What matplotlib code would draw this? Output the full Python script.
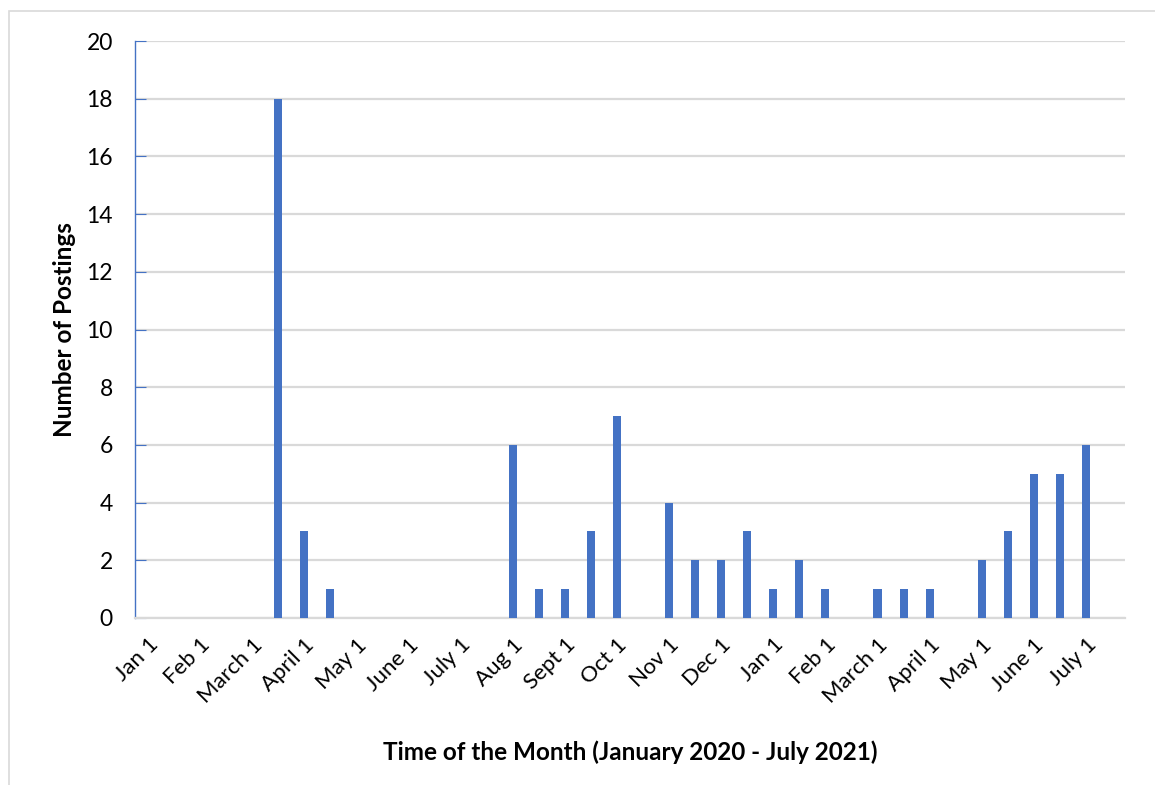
import numpy as np
import matplotlib.pyplot as plt
from matplotlib.patches import Rectangle

plt.rcParams['font.family'] = ['Lato', 'DejaVu Sans']

# half-month slots, Jan 2020 - July 2021
postings = [0, 0, 0, 0, 0, 18, 3, 1, 0, 0, 0, 0, 0, 0, 6, 1, 1, 3, 7, 0,
            4, 2, 2, 3, 1, 2, 1, 0, 1, 1, 1, 0, 2, 3, 5, 5, 6, 0]
month_labels = ['Jan 1', 'Feb 1', 'March 1', 'April 1', 'May 1', 'June 1',
                'July 1', 'Aug 1', 'Sept 1', 'Oct 1', 'Nov 1', 'Dec 1',
                'Jan 1', 'Feb 1', 'March 1', 'April 1', 'May 1', 'June 1',
                'July 1']

bar_color = '#4472C4'
grid_color = '#D9D9D9'

fig = plt.figure(figsize=(11.55, 7.85), dpi=100)
fig.patches.append(Rectangle((9 / 1155, -0.1), 1.2, 1 - 11 / 785 + 0.1,
                             transform=fig.transFigure, fill=False,
                             edgecolor=grid_color, linewidth=1.2))

ax = fig.add_axes([135 / 1155, 1 - 618 / 785, 990 / 1155, 577 / 785])

x = np.arange(len(postings))
ax.bar(x, postings, width=0.31, color=bar_color, zorder=3)

ax.set_xlim(-0.5, len(postings) - 0.5)
ax.set_ylim(0, 20)
ax.set_yticks(np.arange(0, 21, 2))
ax.set_xticks(x[::2])
ax.set_xticklabels(month_labels, rotation=45, ha='right',
                   rotation_mode='anchor', fontsize=16)
ax.tick_params(axis='x', length=0, pad=12)
ax.tick_params(axis='y', direction='in', length=8, color=bar_color,
               labelsize=16.5, pad=16)

ax.grid(axis='y', color=grid_color, linewidth=1.6, zorder=0)
for side in ['top', 'right']:
    ax.spines[side].set_visible(False)
ax.spines['left'].set_color(bar_color)
ax.spines['left'].set_linewidth(1.0)
ax.spines['bottom'].set_color(grid_color)
ax.spines['bottom'].set_linewidth(1.6)

ax.set_xlabel('Time of the Month (January 2020 - July 2021)',
              fontsize=17.5, fontweight='bold', labelpad=24)
ax.set_ylabel('Number of Postings', fontsize=17.5, fontweight='bold',
              labelpad=7)

fig.savefig('out.png', dpi=100)
